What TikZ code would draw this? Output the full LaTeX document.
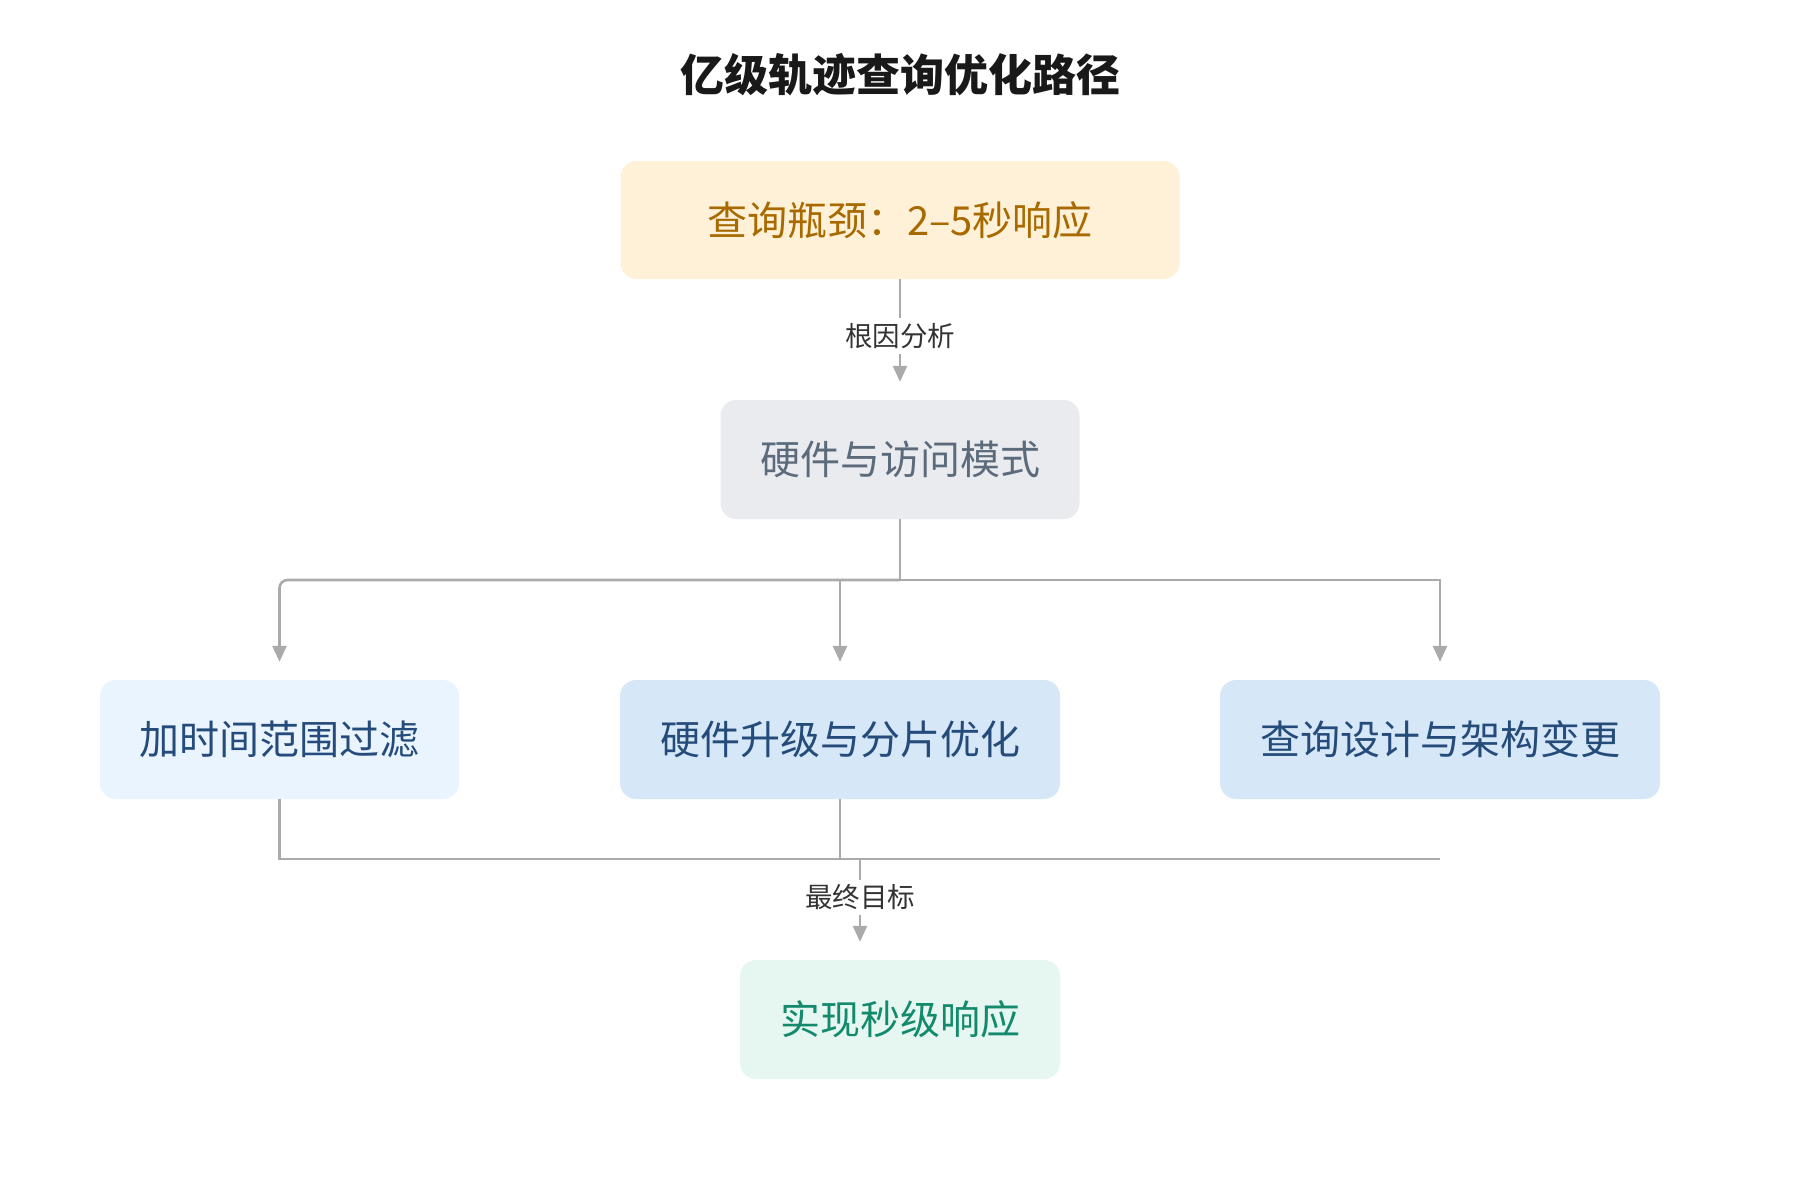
\documentclass[tikz,border=0pt]{standalone}
\usepackage{fontspec}
\newfontfamily\cjk{Noto Sans CJK SC}
\usetikzlibrary{arrows.meta,calc}
\definecolor{linec}{HTML}{AAAAAA}
\definecolor{yfill}{HTML}{FFF1D8}
\definecolor{ytext}{HTML}{A86A00}
\definecolor{gfill}{HTML}{E9EBEF}
\definecolor{gtext}{HTML}{5B6B7B}
\definecolor{lbfill}{HTML}{EAF4FE}
\definecolor{bfill}{HTML}{D6E8F7}
\definecolor{btext}{HTML}{244B7A}
\definecolor{tfill}{HTML}{E6F6F1}
\definecolor{ttext}{HTML}{138A6C}
\tikzset{
  box/.style={rounded corners=16pt,inner sep=0pt,font=\cjk\fontsize{40}{44}\selectfont},
  conn/.style={draw=linec,line width=2.6pt},
  arr/.style={conn,-{Triangle[width=14pt,length=16pt]},shorten >=18pt},
  lbl/.style={fill=white,inner sep=5pt,font=\cjk\fontsize{27.5}{30}\selectfont,text=black!80}
}
\begin{document}
\begin{tikzpicture}[x=1pt,y=-1pt]
\useasboundingbox[fill=white] (0,0) rectangle (1800,1200);
\node[font=\cjk\bfseries\fontsize{44}{48}\selectfont,text=black!90] (title) at (900,75) {亿级轨迹查询优化路径};
\node[box,fill=yfill,text=ytext,minimum width=559pt,minimum height=118pt] (b1) at (900,220) {查询瓶颈：2–5秒响应};
\node[box,fill=gfill,text=gtext,minimum width=359pt,minimum height=119pt] (b2) at (900,459.5) {硬件与访问模式};
\node[box,fill=lbfill,text=btext,minimum width=359pt,minimum height=119pt] (b3) at (279.5,739.5) {加时间范围过滤};
\node[box,fill=bfill,text=btext,minimum width=440pt,minimum height=119pt] (b4) at (840,739.5) {硬件升级与分片优化};
\node[box,fill=bfill,text=btext,minimum width=440pt,minimum height=119pt] (b5) at (1440,739.5) {查询设计与架构变更};
\node[box,fill=tfill,text=ttext,minimum width=320pt,minimum height=119pt] (b6) at (900,1019.5) {实现秒级响应};
% top connector
\draw[arr] (b1.south) -- (b2.north) node[lbl,pos=0.47] {根因分析};
% fan-out
\coordinate (busc) at (900,580);
\coordinate (busm) at (840,580);
\draw[conn] (b2.south) -- (busc);
\draw[arr,rounded corners=8pt] (busc) -| (b3.north);
\draw[arr] (busc) -| (b5.north);
\draw[arr] (busm) -- (b4.north);
% fan-in
\coordinate (lowl) at (279.5,859);
\coordinate (lowr) at (1440,859);
\coordinate (lowm) at (840,859);
\coordinate (lowo) at (860,859);
\draw[conn] (b3.south) -- (lowl) -- (lowr);
\draw[conn] (b4.south) -- (lowm);
\draw[arr] (lowo) -- (lowo |- b6.north) node[lbl,pos=0.38] {最终目标};
\end{tikzpicture}
\end{document}
